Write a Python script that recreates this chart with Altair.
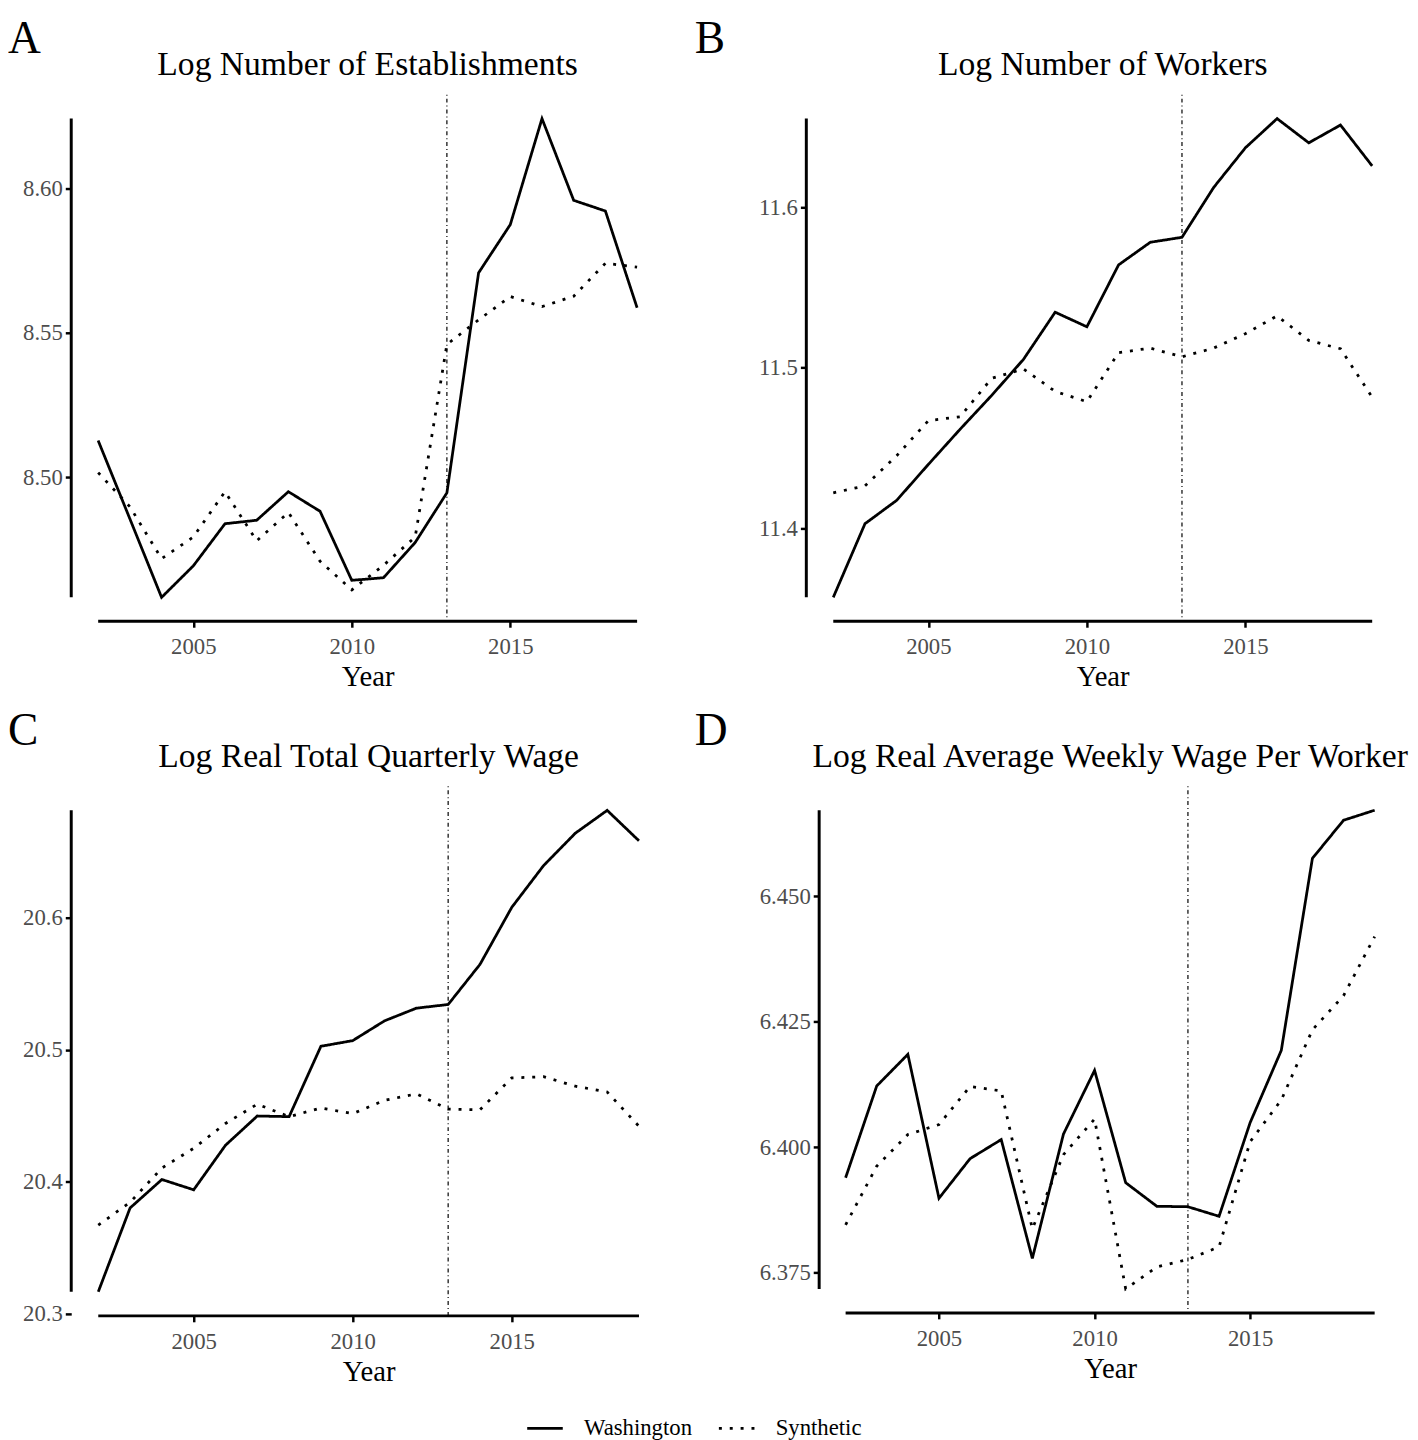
import altair as alt
import pandas as pd

FONT = "Liberation Serif"

YEARS = list(range(2002, 2020))
TREATMENT_YEAR = 2013
SERIES = ["Washington", "Synthetic"]
X_TICKS = [2005, 2010, 2015]

# Panel A: Log Number of Establishments
EST_WA = [8.5127, 8.4856, 8.4584, 8.4693, 8.4839, 8.4851, 8.4950, 8.4882, 8.4643,
          8.4652, 8.4774, 8.4946, 8.5708, 8.5875, 8.6242, 8.5959, 8.5922, 8.5587]
EST_SYN = [8.5016, 8.4898, 8.4718, 8.4793, 8.4950, 8.4780, 8.4878, 8.4709, 8.4610,
           8.4695, 8.4793, 8.5460, 8.5545, 8.5626, 8.5591, 8.5627, 8.5741, 8.5728]
EST_TICKS = [8.50, 8.55, 8.60]

# Panel B: Log Number of Workers
WRK_WA = [11.3569, 11.4028, 11.4174, 11.4398, 11.4617, 11.4829, 11.5053, 11.5347, 11.5256,
          11.5642, 11.5783, 11.5814, 11.6125, 11.6372, 11.6554, 11.6403, 11.6514, 11.6259]
WRK_SYN = [11.4221, 11.4264, 11.4452, 11.4671, 11.4695, 11.4935, 11.4993, 11.4853, 11.4789,
           11.5095, 11.5123, 11.5069, 11.5123, 11.5213, 11.5324, 11.5171, 11.5119, 11.4817]
WRK_TICKS = [11.4, 11.5, 11.6]

# Panel C: Log Real Total Quarterly Wage
TQW_WA = [20.3164, 20.3800, 20.4016, 20.3938, 20.4276, 20.4498, 20.4493, 20.5027, 20.5070,
          20.5220, 20.5316, 20.5344, 20.5648, 20.6081, 20.6398, 20.6644, 20.6817, 20.6586]
TQW_SYN = [20.3670, 20.3843, 20.4103, 20.4253, 20.4441, 20.4588, 20.4493, 20.4559, 20.4516,
           20.4617, 20.4666, 20.4550, 20.4545, 20.4787, 20.4796, 20.4724, 20.4680, 20.4420]
TQW_TICKS = [20.3, 20.4, 20.5, 20.6]

# Panel D: Log Real Average Weekly Wage Per Worker
AWW_WA = [6.3939, 6.4122, 6.4185, 6.3898, 6.3977, 6.4015, 6.3778, 6.4026, 6.4153,
          6.3929, 6.3882, 6.3881, 6.3862, 6.4049, 6.4193, 6.4576, 6.4652, 6.4672]
AWW_SYN = [6.3845, 6.3962, 6.4025, 6.4045, 6.4121, 6.4112, 6.3837, 6.3985, 6.4056,
           6.3717, 6.3761, 6.3776, 6.3801, 6.4011, 6.4094, 6.4234, 6.4302, 6.4420]
AWW_TICKS = [6.375, 6.400, 6.425, 6.450]


def panel(letter, title, wa, syn, ticks, fmt, width, height, letter_x):
    df = pd.DataFrame({
        "year": YEARS + YEARS,
        "series": [SERIES[0]] * len(YEARS) + [SERIES[1]] * len(YEARS),
        "value": wa + syn,
    })
    lo, hi = min(wa + syn), max(wa + syn)
    ypad = 0.05 * (hi - lo)
    xpad = 0.05 * (YEARS[-1] - YEARS[0])
    xs = alt.Scale(domain=[YEARS[0] - xpad, YEARS[-1] + xpad], nice=False, zero=False)
    ys = alt.Scale(domain=[lo - ypad, hi + ypad], nice=False, zero=False)
    xaxis = alt.Axis(values=X_TICKS, format="d", title="Year", grid=False, domain=False,
                     tickSize=6, tickWidth=2.5, tickColor="black",
                     labelFont=FONT, labelFontSize=23, labelColor="#4D4D4D", labelPadding=9,
                     titleFont=FONT, titleFontSize=29, titleFontWeight="normal",
                     titleColor="black", titlePadding=4)
    yaxis = alt.Axis(values=ticks, format=fmt, title=None, grid=False, domain=False,
                     tickSize=6, tickWidth=2.5, tickColor="black",
                     labelFont=FONT, labelFontSize=23, labelColor="#4D4D4D", labelPadding=3)

    lines = alt.Chart(df).mark_line(strokeWidth=2.8, color="black").encode(
        x=alt.X("year:Q", scale=xs, axis=xaxis),
        y=alt.Y("value:Q", scale=ys, axis=yaxis),
        strokeDash=alt.StrokeDash(
            "series:N",
            scale=alt.Scale(domain=SERIES, range=[[1, 0], [3, 8]]),
            legend=alt.Legend(title=None, orient="none", legendX=460, legendY=1330,
                              direction="horizontal", symbolSize=1296,
                              symbolStrokeWidth=2.8, symbolStrokeColor="black",
                              labelFont=FONT, labelFontSize=23, labelColor="black",
                              labelOffset=20, columnPadding=20),
        ),
    )
    # capped axis lines spanning the data range only
    ycap = pd.DataFrame({"ylo": [lo], "yhi": [hi]})
    xcap = pd.DataFrame({"xlo": [YEARS[0]], "xhi": [YEARS[-1]]})
    yline = alt.Chart(ycap).mark_rule(strokeWidth=3, color="black").encode(
        y=alt.Y("ylo:Q", scale=ys, axis=yaxis), y2="yhi", x=alt.value(0))
    xline = alt.Chart(xcap).mark_rule(strokeWidth=3, color="black").encode(
        x=alt.X("xlo:Q", scale=xs, axis=xaxis), x2="xhi", y=alt.value(height))
    vline = alt.Chart(pd.DataFrame({"year": [TREATMENT_YEAR]})).mark_rule(
        strokeWidth=1.2, color="black", strokeDash=[1, 3, 4, 3]).encode(
        x=alt.X("year:Q", scale=xs, axis=xaxis))
    label = alt.Chart(pd.DataFrame({"t": [letter]})).mark_text(
        font=FONT, fontSize=46, align="left", baseline="alphabetic", color="black").encode(
        text="t:N", x=alt.value(letter_x), y=alt.value(-42))
    heading = alt.Chart(pd.DataFrame({"t": [title]})).mark_text(
        font=FONT, fontSize=34, align="center", baseline="alphabetic", color="black").encode(
        text="t:N", x=alt.value(width / 2), y=alt.value(-20))

    return alt.layer(lines, vline, yline, xline, label, heading).properties(
        width=width, height=height,
    )


A = panel("A", "Log Number of Establishments", EST_WA, EST_SYN, EST_TICKS, ".2f", 600, 533, -64)
B = panel("B", "Log Number of Workers", WRK_WA, WRK_SYN, WRK_TICKS, ".1f", 600, 533, -113)
C = panel("C", "Log Real Total Quarterly Wage", TQW_WA, TQW_SYN, TQW_TICKS, ".1f", 602, 536, -64)
D = panel("D", "Log Real Average Weekly Wage Per Worker", AWW_WA, AWW_SYN, AWW_TICKS, ".3f", 589, 533, -126)

chart = alt.vconcat(
    alt.hconcat(A, B, spacing=31),
    alt.hconcat(C, D, spacing=29),
    spacing=17,
).properties(padding=0).configure_view(stroke=None)

chart.save("out.html", embed_options={"renderer": "svg", "actions": False})
